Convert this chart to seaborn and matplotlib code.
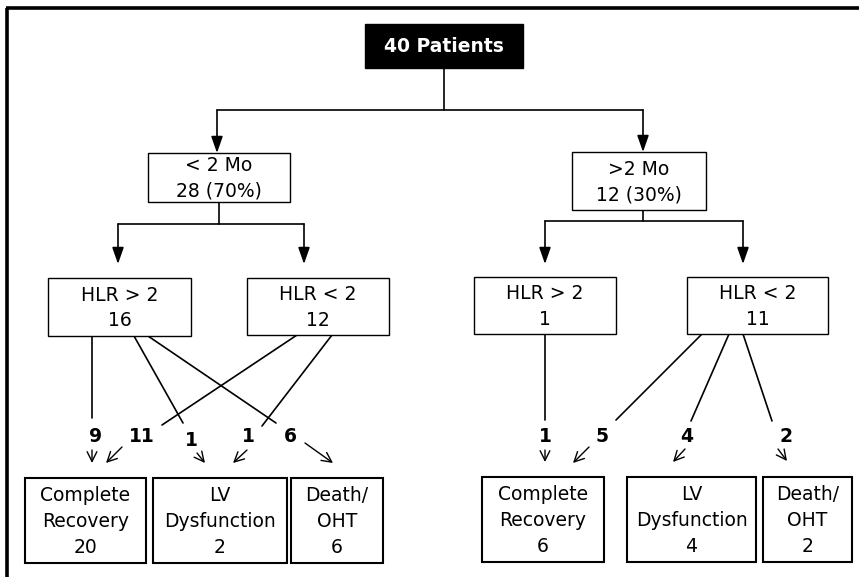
import matplotlib
matplotlib.use("Agg")
import matplotlib.pyplot as plt
import seaborn as sns
from matplotlib.patches import Rectangle

root_n = 40
onset_labels = ["< 2 Mo", ">2 Mo"]
onset_n = [28, 12]
onset_pct = [70, 30]
hlr_labels = ["HLR > 2", "HLR < 2", "HLR > 2", "HLR < 2"]
hlr_n = [16, 12, 1, 11]
flow_n = [9, 11, 1, 1, 6, 1, 5, 4, 2]
outcome_labels = ["Complete\nRecovery", "LV\nDysfunction", "Death/\nOHT",
                  "Complete\nRecovery", "LV\nDysfunction", "Death/\nOHT"]
outcome_n = [20, 2, 6, 6, 4, 2]

# ---- layout (pixel coords, y downwards) ----
root_box = (365, 24, 523, 68)
onset_boxes = [(148, 153, 290, 202), (572, 152, 706, 210)]
hlr_boxes = [(48, 278, 191, 336), (247, 278, 389, 335),
             (474, 277, 616, 334), (687, 277, 828, 334)]
outcome_boxes = [(25, 478, 146, 563), (153, 478, 287, 563), (291, 478, 383, 563),
                 (482, 477, 604, 562), (627, 477, 756, 562), (763, 477, 852, 562)]
# line start, line end, label pos, small arrow tail, small arrow head
flow_geom = [
    ((92, 336), (92, 418), (96, 437), (92, 450), (92, 463)),
    ((297, 335), (162, 425), (142, 437), (122, 447), (106, 463)),
    ((134, 336), (183, 423), (191, 440), (197, 453), (205, 463)),
    ((332, 335), (262, 426), (248, 437), (247, 450), (233, 463)),
    ((148, 336), (276, 423), (290, 436), (305, 443), (333, 463)),
    ((545, 334), (545, 420), (545, 436), (545, 450), (545, 462)),
    ((702, 334), (616, 420), (602, 436), (589, 447), (573, 463)),
    ((729, 334), (691, 421), (687, 436), (685, 449), (673, 462)),
    ((743, 334), (772, 421), (786, 436), (778, 449), (787, 461)),
]

sns.set_theme(style="white")
plt.rcParams['font.family'] = ['DejaVu Sans']

fig = plt.figure(figsize=(8.59, 5.77), dpi=100)
ax = fig.add_axes([0, 0, 1, 1])
ax.set_xlim(0, 859)
ax.set_ylim(577, 0)
ax.axis('off')

# frame (top and left only)
ax.plot([7, 7], [8, 577], color='black', lw=2.6, solid_capstyle='butt')
ax.plot([6, 859], [8, 8], color='black', lw=2.6, solid_capstyle='butt')


def box(b, text, lw=1.0, fc='white', tc='black', weight='normal', size=13.5):
    x0, y0, x1, y1 = b
    ax.add_patch(Rectangle((x0, y0), x1 - x0, y1 - y0, fc=fc, ec='black', lw=lw, zorder=3))
    ax.text((x0 + x1) / 2, (y0 + y1) / 2 + 1, text, ha='center', va='center',
            color=tc, fontsize=size, fontweight=weight, linespacing=1.45, zorder=4)


def big_arrow(x, y0, y1):
    ax.annotate("", xy=(x, y1), xytext=(x, y0),
                arrowprops=dict(arrowstyle="-|>,head_length=1.0,head_width=0.35",
                                color='black', lw=1.2, shrinkA=0, shrinkB=0,
                                mutation_scale=10))


def line(p, q, lw=1.2):
    ax.plot([p[0], q[0]], [p[1], q[1]], color='black', lw=lw)


# root
box(root_box, f"{root_n} Patients", fc='black', tc='white', weight='bold', size=13.5)
rx = (root_box[0] + root_box[2]) / 2
line((rx, root_box[3]), (rx, 110))
line((217, 110), (643, 110))
big_arrow(217, 110, 153)
big_arrow(643, 110, 152)

# onset boxes
for b, lab, n, p in zip(onset_boxes, onset_labels, onset_n, onset_pct):
    box(b, f"{lab}\n{n} ({p}%)")

# split into HLR groups
line((219, 202), (219, 224))
line((118, 224), (304, 224))
big_arrow(118, 224, 264)
big_arrow(304, 224, 264)
line((643, 210), (643, 221))
line((545, 221), (743, 221))
big_arrow(545, 221, 264)
big_arrow(743, 221, 264)

for b, lab, n in zip(hlr_boxes, hlr_labels, hlr_n):
    box(b, f"{lab}\n{n}")

# flows to outcomes
for n, (s, e, lp, at, ah) in zip(flow_n, flow_geom):
    line(s, e)
    ax.text(lp[0], lp[1], str(n), ha='center', va='center', fontsize=13.5,
            fontweight='bold', color='black')
    ax.annotate("", xy=ah, xytext=at,
                arrowprops=dict(arrowstyle="->,head_length=0.7,head_width=0.35",
                                color='black', lw=1.0, shrinkA=0, shrinkB=0,
                                mutation_scale=10))

for b, lab, n in zip(outcome_boxes, outcome_labels, outcome_n):
    box(b, f"{lab}\n{n}", lw=1.5)

fig.savefig("out.png", dpi=100)
